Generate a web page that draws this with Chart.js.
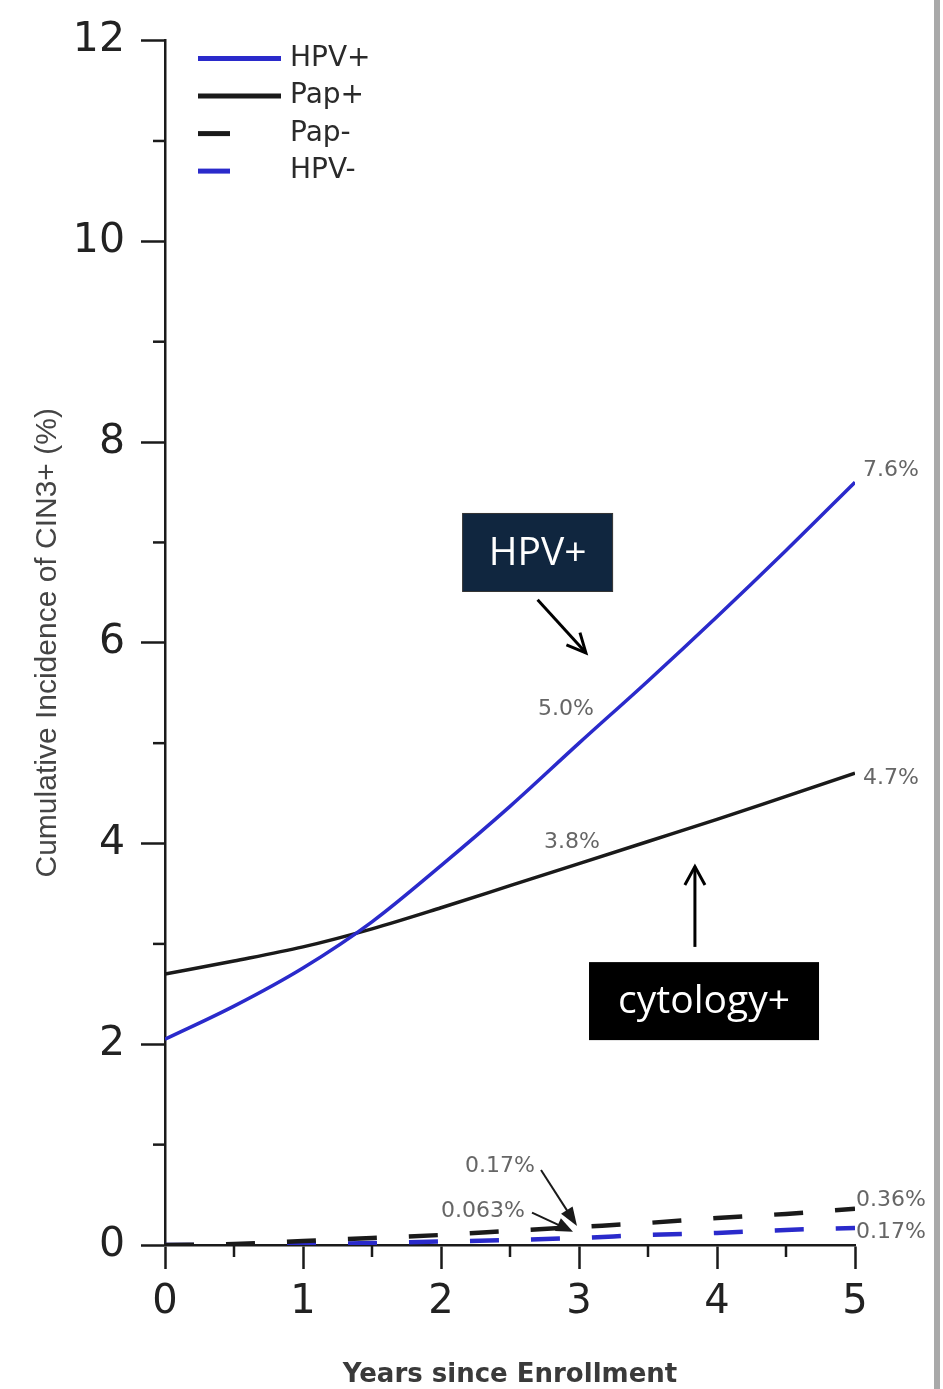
<!DOCTYPE html>
<html>
<head>
<meta charset="utf-8">
<script src="https://cdn.jsdelivr.net/npm/chart.js@4.4.1/dist/chart.umd.min.js"></script>
<style>
html,body{margin:0;padding:0;background:#fff;}
#wrap{position:relative;width:943px;height:1389px;}
#edge{position:absolute;left:934px;top:0;width:6px;height:1389px;background:#a9a9a9;}
</style>
</head>
<body>
<div id="wrap"><canvas id="chart"></canvas><div id="edge"></div></div>
<script>

// years since enrollment
const years=[0,0.5,1,1.5,2,2.5,3,3.5,4,4.5,5];

// cumulative incidence of CIN3+ (%)
const hpvPos=[2.05,2.38,2.76,3.22,3.78,4.37,5.0,5.62,6.26,6.92,7.6];
const papPos=[2.70,2.83,2.97,3.15,3.36,3.58,3.80,4.02,4.24,4.47,4.70];
const papNeg=[0,0.01,0.04,0.07,0.10,0.14,0.18,0.22,0.27,0.31,0.36];
const hpvNeg=[0,0,0.01,0.02,0.035,0.05,0.07,0.10,0.12,0.15,0.17];

const seriesNames=["HPV+","Pap+","Pap-","HPV-"];
const endLabels=["7.6%","4.7%","0.36%","0.17%"];
const yearThreeLabels=["5.0%","3.8%","0.17%","0.063%"];

const blue="#2a2acb";
const ink="#1a1a1a";

function pts(arr){
return years.map((x,i)=>({x:x,y:arr[i]}));
}

function arrow(ctx,x1,y1,x2,y2,filled,head,spread){
const a=Math.atan2(y2-y1,x2-x1);
ctx.beginPath();
ctx.moveTo(x1,y1);
ctx.lineTo(filled?x2-Math.cos(a)*head*0.6:x2,filled?y2-Math.sin(a)*head*0.6:y2);
ctx.stroke();
const lx=x2-head*Math.cos(a-spread),ly=y2-head*Math.sin(a-spread);
const rx=x2-head*Math.cos(a+spread),ry=y2-head*Math.sin(a+spread);
ctx.beginPath();
if(filled){
ctx.moveTo(lx,ly);ctx.lineTo(x2,y2);ctx.lineTo(rx,ry);ctx.closePath();ctx.fill();
}else{
ctx.moveTo(lx,ly);ctx.lineTo(x2,y2);ctx.lineTo(rx,ry);ctx.stroke();
}
}

const extras={
id:"extras",
afterDraw(chart){
const ctx=chart.ctx;
const xs=chart.scales.x,ys=chart.scales.y;
const px=v=>xs.getPixelForValue(v);
const py=v=>ys.getPixelForValue(v);
const ds=chart.data.datasets;
ctx.save();

// minor ticks
ctx.strokeStyle=ink;
ctx.lineWidth=2.5;
for(let v=1;v<12;v+=2){
ctx.beginPath();ctx.moveTo(px(0),py(v));ctx.lineTo(px(0)-12,py(v));ctx.stroke();
}
for(let v=0.5;v<5;v+=1){
ctx.beginPath();ctx.moveTo(px(v),py(0));ctx.lineTo(px(v),py(0)+12);ctx.stroke();
}

// legend
ctx.font="28px 'DejaVu Sans'";
ctx.textBaseline="middle";
ctx.textAlign="left";
const lx=chart.chartArea.left+33;
ds.forEach((d,i)=>{
const y=chart.chartArea.top+18+i*37.5;
ctx.strokeStyle=d.borderColor;
ctx.lineWidth=5;
ctx.setLineDash([]);
ctx.beginPath();
ctx.moveTo(lx,y);
ctx.lineTo(lx+(d.borderDash&&d.borderDash.length?32:83),y);
ctx.stroke();
ctx.fillStyle="#2a2a2a";
ctx.fillText(seriesNames[i],lx+92,y);
});

// value labels
ctx.font="22px 'DejaVu Sans'";
ctx.fillStyle="#666";
ctx.textAlign="left";
ctx.fillText(endLabels[0],px(5)+8,py(hpvPos[10])-12);
ctx.fillText(endLabels[1],px(5)+8,py(papPos[10])+5);
ctx.fillText(endLabels[2],px(5)+1,py(papNeg[10])-9);
ctx.fillText(endLabels[3],px(5)+1,py(hpvNeg[10])+4);
ctx.textAlign="center";
ctx.fillText(yearThreeLabels[0],px(3)-13,py(hpvPos[6])-34);
ctx.fillText(yearThreeLabels[1],px(3)-7,py(papPos[6])-21);
ctx.fillText(yearThreeLabels[2],px(3)-79,py(0.17)-62);
ctx.fillText(yearThreeLabels[3],px(3)-96,py(0.063)-27);

// small callout arrows at year 3
ctx.strokeStyle=ink;ctx.fillStyle=ink;ctx.lineWidth=2;
arrow(ctx,px(3)-38,py(0.17)-58,px(3)-2,py(0.17)-2,true,20,0.35);
arrow(ctx,px(3)-47,py(0.063)-26,px(3)-6,py(0.063)-7,true,18,0.4);

// HPV+ box
ctx.font="39px 'Open Sans'";
ctx.textAlign="center";
ctx.textBaseline="middle";
let bx=px(2.7),by=py(6.9);
ctx.fillStyle="#10263f";
ctx.fillRect(bx-75,by-39,150,78);
ctx.strokeStyle="#333";ctx.lineWidth=1;
ctx.strokeRect(bx-75,by-39,150,78);
ctx.fillStyle="#fff";
ctx.fillText("HPV+",bx,by+1);
ctx.strokeStyle="#000";ctx.lineWidth=3;
arrow(ctx,px(2.7),py(6.43),px(3.05),py(5.9),false,21,0.45);

// cytology+ box
bx=px(3.906);by=py(2.43);
ctx.fillStyle="#000";
ctx.fillRect(bx-115,by-39,230,78);
ctx.fillStyle="#fff";
ctx.fillText("cytology+",bx,by+1);
ctx.strokeStyle="#000";ctx.lineWidth=3;
arrow(ctx,px(3.84),py(2.97),px(3.84),py(3.77),false,21,0.5);

ctx.restore();
}
};

const chart=new Chart(document.getElementById("chart"),{
type:"line",
data:{
datasets:[
{label:seriesNames[0],data:pts(hpvPos),borderColor:blue,borderWidth:3.5,pointRadius:0,cubicInterpolationMode:"monotone"},
{label:seriesNames[1],data:pts(papPos),borderColor:ink,borderWidth:3.5,pointRadius:0,cubicInterpolationMode:"monotone"},
{label:seriesNames[2],data:pts(papNeg),borderColor:ink,borderWidth:4.5,borderDash:[29,32],pointRadius:0,cubicInterpolationMode:"monotone"},
{label:seriesNames[3],data:pts(hpvNeg),borderColor:blue,borderWidth:4.5,borderDash:[29,32],pointRadius:0,cubicInterpolationMode:"monotone"}
]
},
options:{
responsive:true,
maintainAspectRatio:false,
animation:false,
layout:{padding:{top:32,right:88,left:0,bottom:0}},
plugins:{legend:{display:false},tooltip:{enabled:false}},
scales:{
x:{
type:"linear",
min:0,max:5,
afterFit(s){s.height=144;},
ticks:{stepSize:1,color:"#222",font:{family:"DejaVu Sans",size:40},padding:10,maxRotation:0},
grid:{drawOnChartArea:false,tickLength:24,tickColor:ink,tickWidth:2.5},
border:{color:ink,width:2.5},
title:{display:true,text:"Years since Enrollment",color:"#3a3a3a",font:{family:"DejaVu Sans",size:26,weight:"bold",lineHeight:1},padding:{top:0,bottom:1}}
},
y:{
min:0,max:12,
afterFit(s){s.width=165;},
ticks:{stepSize:2,color:"#222",font:{family:"DejaVu Sans",size:41},padding:16},
grid:{drawOnChartArea:false,tickLength:24,tickColor:ink,tickWidth:2.5},
border:{color:ink,width:2.5},
title:{display:true,text:"Cumulative Incidence of CIN3+ (%)",color:"#444",font:{family:"Liberation Sans",size:30},padding:{top:30,bottom:0}}
}
}
},
plugins:[extras]
});

</script>
</body>
</html>
